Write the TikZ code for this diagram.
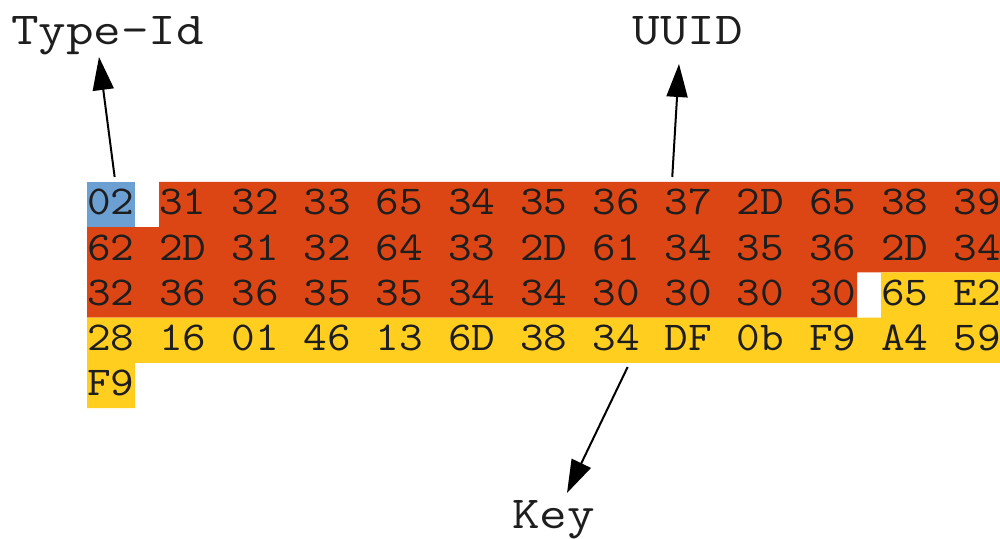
\documentclass[tikz,border=0pt]{standalone}
\usepackage{fontspec}
\newfontfamily\hexfont[FakeStretch=1.12]{Latin Modern Mono}
\newfontfamily\labelfont[FakeStretch=1.17]{Latin Modern Mono}
\usetikzlibrary{arrows.meta,calc}
\definecolor{typeblue}{HTML}{6C9FD2}
\definecolor{uuidorange}{HTML}{DC4614}
\definecolor{keyyellow}{HTML}{FFCE1F}
\definecolor{inkdark}{HTML}{1E1E1E}
\tikzset{
  bytebox/.style={inner sep=0pt, outer sep=0pt, anchor=base west, text=inkdark,
    font=\hexfont\fontsize{20.5pt}{24pt}\selectfont},
  fieldlabel/.style={inner sep=0pt, outer sep=0pt, anchor=base west, text=inkdark,
    font=\labelfont\fontsize{22.9pt}{28pt}\selectfont},
  pointer/.style={draw=black, line width=1pt,
    -{Triangle[length=16.5pt,width=10.5pt]}}
}
\begin{document}
\begin{tikzpicture}[x=0.5pt,y=-0.5pt]
  \fill[white] (0,0) rectangle (1000,539);
  \useasboundingbox (0,0) rectangle (1000,539);

  % field backgrounds
  \fill[typeblue] (87,182) rectangle (135,227.2);
  \fill[uuidorange] (159,182) -- (1000,182) -- (1000,272.4) -- (857,272.4)
    -- (857,317.6) -- (87,317.6) -- (87,227.2) -- (159,227.2) -- cycle;
  \fill[keyyellow] (881,272.4) -- (1000,272.4) -- (1000,362.8) -- (135,362.8)
    -- (135,408) -- (87,408) -- (87,317.6) -- (881,317.6) -- cycle;

  % hex bytes, one node per byte
  \foreach \row/\base/\bytes in {
      1/215/{02,31,32,33,65,34,35,36,37,2D,65,38,39},
      2/260.2/{62,2D,31,32,64,33,2D,61,34,35,36,2D,34},
      3/305.4/{32,36,36,35,35,34,34,30,30,30,30,65,E2},
      4/350.6/{28,16,01,46,13,6D,38,34,DF,0b,F9,A4,59},
      5/395.8/{F9}} {
    \foreach \b [count=\c from 0] in \bytes {
      \node[bytebox] (r\row c\c) at ({87+72.2*\c},\base) {\b};
    }
  }

  % field labels
  \node[fieldlabel] (tid)  at (11,45)    {Type-Id};
  \node[fieldlabel] (uuid) at (632.5,45) {UUID};
  \node[fieldlabel] (key)  at (512,528)  {Key};

  % pointers from the bytes to their labels
  \draw[pointer] ($(r1c0.base)+(4,-38)$) -- ($(tid.base west)+(88,12)$);
  \draw[pointer] ($(r1c8.base)+(-16,-38)$) -- ($(uuid.base west)+(46.5,19)$);
  \draw[pointer] ($(r4c7.base)+(11.6,16.4)$) -- ($(key.base west)+(55,-35)$);
\end{tikzpicture}
\end{document}
